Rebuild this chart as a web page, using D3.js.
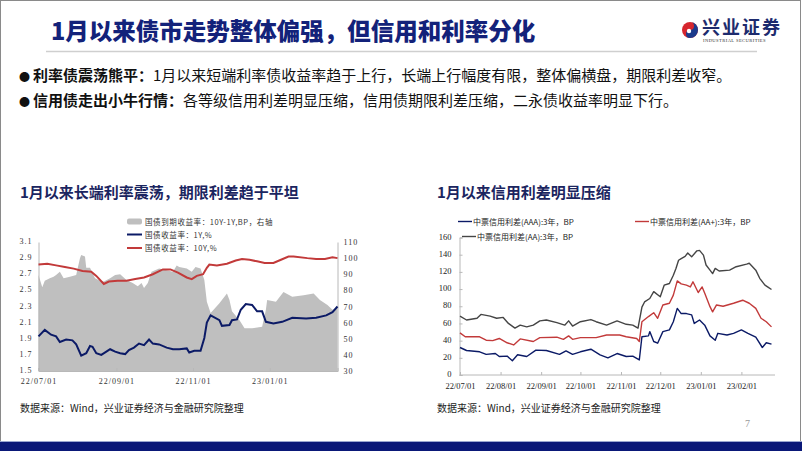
<!DOCTYPE html>
<html>
<head>
<meta charset="utf-8">
<script src="https://cdn.jsdelivr.net/npm/d3@7"></script>
<style>
  body { margin: 0; background: #fff; }
  svg text { font-family: "Noto Sans CJK SC", "Noto Sans", sans-serif; }
  .num { font-family: "Liberation Serif", "DejaVu Serif", serif; }
</style>
</head>
<body>
<svg id="slide" width="802" height="451"></svg>
<script>
// ---- text ----
const pageTitle = '1月以来债市走势整体偏强，但信用和利率分化'
const bullets = [
  ['利率债震荡熊平：', '1月以来短端利率债收益率趋于上行，长端上行幅度有限，整体偏横盘，期限利差收窄。'],
  ['信用债走出小牛行情：', '各等级信用利差明显压缩，信用债期限利差压缩，二永债收益率明显下行。']
]
const leftTitle = '1月以来长端利率震荡，期限利差趋于平坦'
const rightTitle = '1月以来信用利差明显压缩'
const sourceText = '数据来源：Wind，兴业证券经济与金融研究院整理'

// ---- left chart data ----
const leftLegend = ['国债到期收益率：10Y-1Y,BP，右轴', '国债收益率：1Y,%', '国债收益率：10Y,%']
const leftYTicks = [1.5, 1.7, 1.9, 2.1, 2.3, 2.5, 2.7, 2.9, 3.1]
const leftY2Ticks = [30, 40, 50, 60, 70, 80, 90, 100, 110]
const leftXTicks = ['2022-07-01', '2022-09-01', '2022-11-01', '2023-01-01']

const spread10y1y = [
  ['2022-07-01', 89.5], ['2022-07-04', 82], ['2022-07-06', 86], ['2022-07-10', 87.5], ['2022-07-13', 88.5],
  ['2022-07-15', 89.5], ['2022-07-18', 91.5], ['2022-07-21', 87.5], ['2022-07-26', 88.5], ['2022-07-31', 89.5],
  ['2022-08-03', 100], ['2022-08-04', 102], ['2022-08-07', 101], ['2022-08-08', 94], ['2022-08-11', 94],
  ['2022-08-15', 87.5], ['2022-08-19', 86], ['2022-08-22', 85.5], ['2022-08-27', 87.5], ['2022-08-31', 89.5],
  ['2022-09-04', 90], ['2022-09-09', 86.5], ['2022-09-14', 84.5], ['2022-09-18', 82.5], ['2022-09-21', 84.5],
  ['2022-09-23', 81.5], ['2022-09-26', 84.5], ['2022-09-29', 91.5], ['2022-10-05', 93.5], ['2022-10-11', 92.5],
  ['2022-10-16', 91.5], ['2022-10-19', 95.5], ['2022-10-21', 94.5], ['2022-10-27', 93.5], ['2022-10-31', 91.5],
  ['2022-11-03', 94.5], ['2022-11-07', 93.5], ['2022-11-10', 86.5], ['2022-11-12', 73], ['2022-11-15', 66],
  ['2022-11-22', 72], ['2022-11-28', 78], ['2022-11-30', 74], ['2022-12-02', 67], ['2022-12-08', 61.5],
  ['2022-12-12', 56.5], ['2022-12-18', 56.5], ['2022-12-26', 57.5], ['2022-12-29', 68], ['2022-12-30', 74],
  ['2023-01-06', 73], ['2023-01-12', 79], ['2023-01-19', 76], ['2023-01-28', 77], ['2023-02-05', 78],
  ['2023-02-10', 74], ['2023-02-16', 71], ['2023-02-20', 68], ['2023-02-24', 69]
]

const yield1Y = [
  ['2022-07-01', 1.93], ['2022-07-06', 2.01], ['2022-07-11', 1.95], ['2022-07-15', 1.93], ['2022-07-18', 1.86],
  ['2022-07-23', 1.89], ['2022-07-28', 1.88], ['2022-07-31', 1.83], ['2022-08-04', 1.69], ['2022-08-08', 1.72],
  ['2022-08-11', 1.81], ['2022-08-13', 1.80], ['2022-08-16', 1.72], ['2022-08-20', 1.70], ['2022-08-24', 1.74],
  ['2022-08-27', 1.77], ['2022-08-31', 1.74], ['2022-09-04', 1.72], ['2022-09-08', 1.71], ['2022-09-11', 1.76],
  ['2022-09-15', 1.79], ['2022-09-19', 1.84], ['2022-09-23', 1.82], ['2022-09-27', 1.89], ['2022-09-30', 1.84],
  ['2022-10-05', 1.83], ['2022-10-11', 1.79], ['2022-10-16', 1.77], ['2022-10-21', 1.77], ['2022-10-27', 1.78],
  ['2022-10-29', 1.73], ['2022-11-02', 1.75], ['2022-11-07', 1.75], ['2022-11-10', 1.91], ['2022-11-12', 2.10],
  ['2022-11-15', 2.19], ['2022-11-22', 2.13], ['2022-11-24', 2.06], ['2022-11-30', 2.07], ['2022-12-02', 2.13],
  ['2022-12-06', 2.14], ['2022-12-09', 2.26], ['2022-12-13', 2.33], ['2022-12-18', 2.32], ['2022-12-22', 2.24],
  ['2022-12-26', 2.24], ['2022-12-29', 2.11], ['2023-01-04', 2.09], ['2023-01-11', 2.11], ['2023-01-19', 2.16],
  ['2023-01-30', 2.15], ['2023-02-07', 2.16], ['2023-02-15', 2.19], ['2023-02-20', 2.23], ['2023-02-24', 2.30]
]

const yield10Y = [
  ['2022-07-01', 2.82], ['2022-07-08', 2.83], ['2022-07-15', 2.81], ['2022-07-22', 2.79], ['2022-07-29', 2.77],
  ['2022-08-05', 2.74], ['2022-08-12', 2.73], ['2022-08-16', 2.68], ['2022-08-22', 2.58], ['2022-08-26', 2.61],
  ['2022-09-02', 2.62], ['2022-09-09', 2.62], ['2022-09-16', 2.64], ['2022-09-23', 2.66], ['2022-09-30', 2.70],
  ['2022-10-08', 2.76], ['2022-10-14', 2.76], ['2022-10-20', 2.72], ['2022-10-27', 2.66], ['2022-10-31', 2.64],
  ['2022-11-04', 2.68], ['2022-11-09', 2.70], ['2022-11-12', 2.78], ['2022-11-14', 2.82], ['2022-11-20', 2.81],
  ['2022-11-28', 2.83], ['2022-12-05', 2.87], ['2022-12-10', 2.89], ['2022-12-16', 2.88], ['2022-12-22', 2.86],
  ['2022-12-28', 2.84], ['2023-01-04', 2.84], ['2023-01-10', 2.88], ['2023-01-16', 2.92], ['2023-01-20', 2.92],
  ['2023-01-31', 2.90], ['2023-02-07', 2.89], ['2023-02-14', 2.89], ['2023-02-20', 2.91], ['2023-02-24', 2.90]
]

// ---- right chart data ----
const rightLegend = ['中票信用利差(AAA):3年，BP', '中票信用利差(AA+):3年，BP', '中票信用利差(AA):3年，BP']
const rightYTicks = [0, 20, 40, 60, 80, 100, 120, 140, 160]
const rightXTicks = ['2022-07-01', '2022-08-01', '2022-09-01', '2022-10-01', '2022-11-01', '2022-12-01', '2023-01-01', '2023-02-01']

const spreadAAA = [
  ['2022-07-01', 32], ['2022-07-06', 28.5], ['2022-07-16', 27], ['2022-07-21', 24], ['2022-07-28', 25],
  ['2022-07-31', 21.5], ['2022-08-06', 22], ['2022-08-10', 16.5], ['2022-08-14', 23.5], ['2022-08-21', 21.5],
  ['2022-08-28', 29], ['2022-09-05', 28.5], ['2022-09-15', 24], ['2022-09-20', 28], ['2022-09-25', 24],
  ['2022-10-01', 27], ['2022-10-09', 30], ['2022-10-16', 23.5], ['2022-10-22', 20], ['2022-10-29', 25],
  ['2022-11-05', 21.5], ['2022-11-10', 22], ['2022-11-15', 17.5], ['2022-11-17', 44.5], ['2022-11-22', 45.5],
  ['2022-11-23', 50.5], ['2022-11-26', 39], ['2022-11-29', 37], ['2022-12-03', 50.5], ['2022-12-08', 52.5],
  ['2022-12-11', 62], ['2022-12-14', 77.5], ['2022-12-17', 71.5], ['2022-12-21', 71.5], ['2022-12-25', 70],
  ['2022-12-27', 60], ['2022-12-31', 64], ['2023-01-04', 58], ['2023-01-08', 45.5], ['2023-01-12', 40.5],
  ['2023-01-14', 48.5], ['2023-01-21', 46.5], ['2023-01-26', 48.5], ['2023-02-01', 52.5], ['2023-02-06', 48.5],
  ['2023-02-12', 44], ['2023-02-17', 32], ['2023-02-20', 37.5], ['2023-02-24', 36]
]

const spreadAAplus = [
  ['2022-07-01', 49], ['2022-07-05', 44.5], ['2022-07-16', 44.5], ['2022-07-21', 40.5], ['2022-07-26', 40],
  ['2022-07-31', 42.5], ['2022-08-06', 37.5], ['2022-08-11', 35], ['2022-08-16', 42], ['2022-08-26', 39],
  ['2022-08-31', 43.5], ['2022-09-13', 44], ['2022-09-18', 41.5], ['2022-09-22', 45.5], ['2022-09-25', 41.5],
  ['2022-10-01', 43.5], ['2022-10-13', 43.5], ['2022-10-21', 46.5], ['2022-10-31', 46.5], ['2022-11-05', 44.5],
  ['2022-11-13', 42.5], ['2022-11-15', 39], ['2022-11-17', 62], ['2022-11-22', 68], ['2022-11-26', 72.5],
  ['2022-11-29', 66], ['2022-12-03', 81.5], ['2022-12-08', 83.5], ['2022-12-11', 93], ['2022-12-14', 109.5],
  ['2022-12-17', 106], ['2022-12-21', 104.5], ['2022-12-24', 102.5], ['2022-12-26', 108.5], ['2022-12-30', 96],
  ['2023-01-02', 102.5], ['2023-01-04', 95], ['2023-01-08', 79.5], ['2023-01-10', 73.5], ['2023-01-13', 81.5],
  ['2023-01-18', 80], ['2023-01-26', 83.5], ['2023-02-02', 87], ['2023-02-07', 83.5], ['2023-02-12', 77.5],
  ['2023-02-16', 66], ['2023-02-20', 62], ['2023-02-24', 56]
]

const spreadAA = [
  ['2022-07-01', 68.5], ['2022-07-06', 64], ['2022-07-14', 66], ['2022-07-17', 70.5], ['2022-07-24', 68.5],
  ['2022-07-29', 66], ['2022-08-03', 67], ['2022-08-07', 60], ['2022-08-12', 54.5], ['2022-08-16', 58],
  ['2022-08-21', 56], ['2022-08-26', 58], ['2022-08-31', 63], ['2022-09-05', 64], ['2022-09-13', 61],
  ['2022-09-19', 58], ['2022-09-22', 63], ['2022-09-25', 57], ['2022-10-01', 62], ['2022-10-09', 64.5],
  ['2022-10-13', 62], ['2022-10-21', 58], ['2022-10-29', 63], ['2022-11-05', 59], ['2022-11-10', 58],
  ['2022-11-14', 54.5], ['2022-11-17', 79], ['2022-11-19', 85], ['2022-11-23', 89], ['2022-11-26', 97],
  ['2022-12-01', 91], ['2022-12-04', 104.5], ['2022-12-08', 106.5], ['2022-12-11', 116], ['2022-12-13', 124],
  ['2022-12-15', 133.5], ['2022-12-17', 135.5], ['2022-12-20', 138], ['2022-12-22', 142], ['2022-12-25', 137.5],
  ['2022-12-29', 144.5], ['2022-12-31', 145], ['2023-01-03', 139.5], ['2023-01-05', 128], ['2023-01-08', 122],
  ['2023-01-10', 118], ['2023-01-12', 124], ['2023-01-15', 121], ['2023-01-23', 122], ['2023-01-28', 126],
  ['2023-02-05', 129], ['2023-02-07', 130], ['2023-02-12', 122], ['2023-02-15', 112.5], ['2023-02-19', 104.5],
  ['2023-02-21', 102.5], ['2023-02-24', 99.5]
]

// ---- colours ----
const navy = '#13227a'
const lineBlue = '#0b1a66'
const lineRed = '#c23a3a'
const lineGrey = '#454545'
const areaGrey = '#bfbfbf'
const axisGrey = '#b8b8b8'

const parse = d3.timeParse('%Y-%m-%d')
const toPoints = arr => arr.map(d => ({date: parse(d[0]), value: d[1]}))

const svg = d3.select('#slide')

// ---- frame ----
svg.append('rect').attr('x', 0.5).attr('y', 0.5).attr('width', 800).attr('height', 442)
  .attr('fill', '#fff').attr('stroke', '#8a8a8a')
svg.append('rect').attr('x', 0).attr('y', 442).attr('width', 802).attr('height', 9).attr('fill', '#0a1878')
svg.append('line').attr('x1', 0).attr('x2', 802).attr('y1', 441.5).attr('y2', 441.5).attr('stroke', '#9aa6d0')

// ---- header ----
svg.append('text').attr('x', 51).attr('y', 40)
  .attr('font-size', 23.5).attr('font-weight', 900).attr('fill', navy)
  .text(pageTitle)
svg.append('line').attr('x1', 46).attr('x2', 757).attr('y1', 51.5).attr('y2', 51.5)
  .attr('stroke', '#cfcfcf').attr('stroke-width', 1.5)

// logo
const logo = svg.append('g').attr('transform', 'translate(690,30)')
logo.append('circle').attr('r', 8).attr('fill', '#d6262e')
logo.append('path').attr('d', 'M0,-8 A8,8 0 0,1 0,8 A4,4 0 0,1 0,0 A4,4 0 0,0 0,-8 Z').attr('fill', '#1b3a8c')
logo.append('circle').attr('r', 2.2).attr('cx', -1).attr('cy', 1).attr('fill', '#fff')
svg.append('text').attr('x', 702).attr('y', 34)
  .attr('font-size', 18).attr('font-weight', 700).attr('fill', '#1d2b6e').attr('letter-spacing', 2)
  .style('font-family', '"Noto Sans CJK SC", serif')
  .text('兴业证券')
svg.append('text').attr('x', 703).attr('y', 41.5)
  .attr('font-size', 4.6).attr('fill', '#333').attr('class', 'num').attr('letter-spacing', 0.4)
  .text('INDUSTRIAL SECURITIES')

// bullets
bullets.forEach((b, i) => {
  const t = svg.append('text').attr('x', 19).attr('y', 81 + i * 25).attr('font-size', 15).attr('fill', '#111')
  t.append('tspan').text('●').attr('font-size', 11)
  t.append('tspan').attr('dx', 3).attr('font-weight', 700).text(b[0])
  t.append('tspan').text(b[1])
})

// ---- left chart ----
const lx = d3.scaleTime().domain([parse('2022-07-01'), parse('2023-02-24')]).range([38.5, 337.5])
const ly = d3.scaleLinear().domain([1.5, 3.1]).range([371, 242])
const ly2 = d3.scaleLinear().domain([30, 110]).range([371, 242])

svg.append('text').attr('x', 20).attr('y', 197.5).attr('font-size', 15).attr('font-weight', 700)
  .attr('fill', '#1b2560').text(leftTitle)

const left = svg.append('g')
left.append('path').datum(toPoints(spread10y1y))
  .attr('fill', areaGrey)
  .attr('d', d3.area().x(d => lx(d.date)).y0(ly2(30)).y1(d => ly2(d.value)))

const leftAxisL = left.append('g').attr('transform', 'translate(38.5,0)')
  .call(d3.axisLeft(ly).tickValues(leftYTicks).tickSize(0).tickPadding(6).tickFormat(d3.format('.1f')))
const leftAxisR = left.append('g').attr('transform', 'translate(337.5,0)')
  .call(d3.axisRight(ly2).tickValues(leftY2Ticks).tickSize(0).tickPadding(6))
const leftAxisB = left.append('g').attr('transform', 'translate(0,371)')
  .call(d3.axisBottom(lx).tickValues(leftXTicks.map(parse)).tickSize(-3).tickPadding(7)
    .tickFormat(d3.timeFormat('%y/%m/%d')))
;[leftAxisL, leftAxisR, leftAxisB].forEach(a => {
  a.select('.domain').attr('stroke', axisGrey)
  a.selectAll('.tick line').attr('stroke', axisGrey)
  a.selectAll('text').attr('class', 'num').attr('font-size', 8).attr('fill', '#333').attr('letter-spacing', 1)
})
leftAxisL.selectAll('text').attr('dy', '0.2em')

const leftLine = d3.line().x(d => lx(d.date)).y(d => ly(d.value))
left.append('path').datum(toPoints(yield10Y)).attr('fill', 'none').attr('stroke', lineRed)
  .attr('stroke-width', 2).attr('d', leftLine)
left.append('path').datum(toPoints(yield1Y)).attr('fill', 'none').attr('stroke', lineBlue)
  .attr('stroke-width', 2).attr('d', leftLine)

// left legend
const ll = svg.append('g').attr('font-size', 7.5).attr('fill', '#333').attr('letter-spacing', 0.6)
ll.append('rect').attr('x', 127).attr('y', 218.5).attr('width', 15).attr('height', 6).attr('rx', 2).attr('fill', areaGrey)
;[lineBlue, lineRed].forEach((c, i) => {
  ll.append('line').attr('x1', 127).attr('x2', 142).attr('y1', 234.5 + i * 13.5).attr('y2', 234.5 + i * 13.5)
    .attr('stroke', c).attr('stroke-width', 2)
})
leftLegend.forEach((t, i) => {
  ll.append('text').attr('x', 145).attr('y', 224.5 + i * 13).text(t)
})

// ---- right chart ----
const rx = d3.scaleTime().domain([parse('2022-07-01'), parse('2023-02-24')]).range([460, 771.5])
const ry = d3.scaleLinear().domain([0, 160]).range([375, 237.5])

svg.append('text').attr('x', 437).attr('y', 197.5).attr('font-size', 15).attr('font-weight', 700)
  .attr('fill', '#1b2560').text(rightTitle)

const right = svg.append('g')
const rightAxisL = right.append('g').attr('transform', 'translate(459.5,0)')
  .call(d3.axisLeft(ry).tickValues(rightYTicks).tickSize(-3).tickPadding(8))
const rightAxisB = right.append('g').attr('transform', 'translate(0,375)')
  .call(d3.axisBottom(rx).tickValues(rightXTicks.map(parse)).tickSize(-3).tickPadding(8)
    .tickFormat(d3.timeFormat('%y/%m/%d')))
rightAxisB.select('.domain').attr('d', 'M459.5,0H775')
;[rightAxisL, rightAxisB].forEach(a => {
  a.select('.domain').attr('stroke', axisGrey)
  a.selectAll('.tick line').attr('stroke', axisGrey)
  a.selectAll('text').attr('class', 'num').attr('font-size', 8.5).attr('fill', '#222')
})
rightAxisL.selectAll('text').attr('dy', '0.2em')

const rightLine = d3.line().x(d => rx(d.date)).y(d => ry(d.value))
;[[spreadAA, lineGrey], [spreadAAplus, lineRed], [spreadAAA, lineBlue]].forEach(s => {
  right.append('path').datum(toPoints(s[0])).attr('fill', 'none').attr('stroke', s[1])
    .attr('stroke-width', 1.4).attr('stroke-linejoin', 'round').attr('d', rightLine)
})

// right legend
const rl = svg.append('g').attr('font-size', 8).attr('fill', '#222')
const rlPos = [[458, 221.5], [635, 221.5], [462, 236.5]]
;[lineBlue, lineRed, lineGrey].forEach((c, i) => {
  rl.append('line').attr('x1', rlPos[i][0]).attr('x2', rlPos[i][0] + 14)
    .attr('y1', rlPos[i][1]).attr('y2', rlPos[i][1]).attr('stroke', c).attr('stroke-width', 1.4)
  rl.append('text').attr('x', rlPos[i][0] + 15).attr('y', rlPos[i][1] + 3).text(rightLegend[i])
})

// ---- footer ----
;[20, 437].forEach(x => {
  svg.append('text').attr('x', x).attr('y', 412).attr('font-size', 10).attr('fill', '#222').text(sourceText)
})
svg.append('text').attr('x', 745).attr('y', 427).attr('font-size', 10).attr('fill', '#999').attr('class', 'num').text('7')
</script>
</body>
</html>
